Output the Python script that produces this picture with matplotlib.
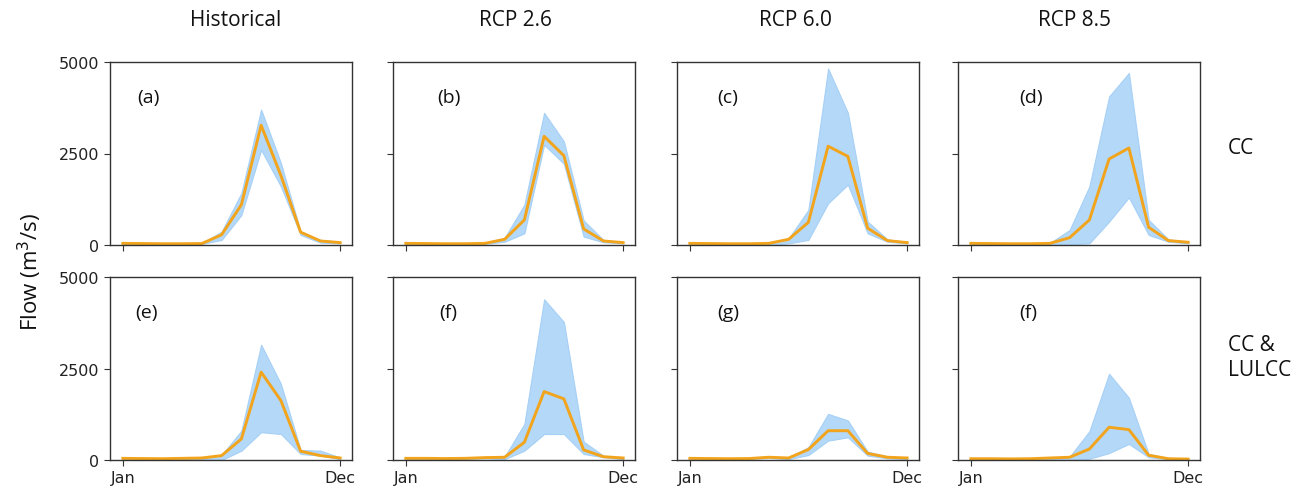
import numpy as np
import matplotlib
matplotlib.use("Agg")
import matplotlib.pyplot as plt

months = np.arange(12)
col_titles = ["Historical", "RCP 2.6", "RCP 6.0", "RCP 8.5"]
row_titles = ["CC", "CC &\nLULCC"]
panel_tags = ["(a)", "(b)", "(c)", "(d)", "(e)", "(f)", "(g)", "(f)"]

# median flow (m3/s) and the spread band for each panel, Jan..Dec
median = [
    [45, 40, 35, 35, 40, 280, 1100, 3270, 1900, 350, 110, 65],
    [45, 40, 35, 35, 45, 155, 685, 2970, 2440, 440, 110, 65],
    [45, 40, 35, 35, 45, 155, 620, 2700, 2420, 460, 120, 65],
    [45, 40, 35, 35, 45, 200, 685, 2350, 2650, 485, 120, 75],
    [45, 40, 35, 45, 55, 120, 575, 2400, 1625, 240, 120, 55],
    [45, 45, 40, 45, 65, 75, 485, 1870, 1670, 275, 90, 55],
    [45, 40, 35, 40, 75, 55, 285, 800, 800, 180, 75, 55],
    [35, 35, 30, 35, 55, 75, 300, 895, 830, 130, 35, 25],
]
upper = [
    [50, 45, 40, 40, 50, 365, 1420, 3700, 2240, 365, 140, 90],
    [50, 45, 40, 40, 55, 200, 1100, 3610, 2830, 670, 140, 80],
    [50, 45, 40, 40, 55, 180, 960, 4820, 3610, 640, 155, 80],
    [50, 45, 40, 40, 55, 410, 1600, 4060, 4700, 685, 155, 90],
    [50, 45, 40, 50, 65, 135, 800, 3150, 2080, 275, 255, 70],
    [50, 50, 45, 50, 75, 90, 985, 4390, 3770, 500, 120, 55],
    [50, 45, 40, 45, 85, 75, 350, 1260, 1080, 230, 100, 55],
    [40, 40, 35, 40, 75, 90, 785, 2355, 1700, 165, 55, 25],
]
lower = [
    [35, 30, 25, 25, 30, 140, 820, 2600, 1600, 275, 65, 45],
    [35, 30, 25, 25, 30, 90, 320, 2740, 2220, 230, 75, 45],
    [30, 25, 20, 20, 0, 45, 140, 1140, 1650, 320, 90, 45],
    [30, 25, 20, 20, 20, 20, 45, 640, 1300, 275, 90, 45],
    [35, 30, 25, 30, 30, 0, 255, 760, 710, 165, 120, 25],
    [35, 35, 30, 35, 45, 25, 255, 710, 710, 165, 75, 25],
    [35, 30, 25, 30, 55, 25, 135, 530, 620, 120, 45, 25],
    [25, 25, 20, 25, 30, 0, 35, 190, 440, 75, 25, 10],
]

W, H = 1291, 489
fig = plt.figure(figsize=(W / 100, H / 100), dpi=100)

lefts = [110, 393, 677, 958]
tops = [63, 278]
aw, ah = 242, 183
tag_x = [0.16, 0.23, 0.21, 0.30, 0.15, 0.23, 0.21, 0.29]

line_c = "#F2A41C"
band_c = "#B4D8F8"
spine_c = "#333333"

for r in range(2):
    for c in range(4):
        i = r * 4 + c
        ax = fig.add_axes([lefts[c] / W, 1 - (tops[r] + ah) / H, aw / W, ah / H])
        ax.fill_between(months, lower[i], upper[i], color=band_c,
                        edgecolor="#A6D0F6", linewidth=0.8)
        ax.plot(months, median[i], color=line_c, lw=2.1)
        ax.set_xlim(-0.65, 11.6)
        ax.set_ylim(0, 5000)
        ax.set_xticks([0, 11])
        ax.set_yticks([0, 2500, 5000])
        if r == 1:
            ax.set_xticklabels(["Jan", "Dec"])
        else:
            ax.set_xticklabels([])
        if c != 0:
            ax.set_yticklabels([])
        ax.tick_params(labelsize=11.5, length=4.5, color=spine_c, labelcolor="#222222", pad=3)
        for s in ax.spines.values():
            s.set_color(spine_c)
            s.set_linewidth(1)
        ax.text(tag_x[i], 0.81, panel_tags[i], transform=ax.transAxes,
                fontsize=14, family="Open Sans", ha="center", va="center", color="#111111")

col_cx = [236, 515, 795, 1075]
for c in range(4):
    fig.text(col_cx[c] / W, 1 - 20 / H, col_titles[c], fontsize=15,
             family="Open Sans", ha="center", va="center", color="#111111")

fig.text(1228 / W, 1 - 148 / H, row_titles[0], fontsize=15, family="Open Sans",
         ha="left", va="center", color="#111111")
fig.text(1228 / W, 1 - 358 / H, row_titles[1], fontsize=15, family="Open Sans",
         ha="left", va="center", color="#111111", linespacing=1.3)

fig.text(30 / W, 1 - 272 / H, "Flow (m$^3$/s)", rotation=90, fontsize=16,
         family="Open Sans", ha="center", va="center", color="#111111")

fig.savefig("out.png", dpi=100)
